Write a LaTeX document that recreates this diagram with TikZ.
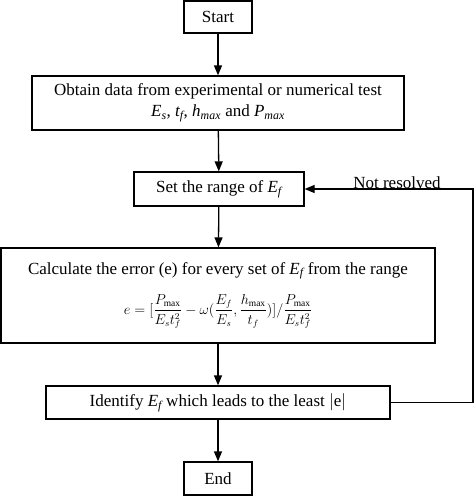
\documentclass[tikz,border=0pt]{standalone}
\usepackage{fontspec}
\setmainfont{Liberation Serif}
\usetikzlibrary{arrows.meta,positioning}
\tikzset{box/.style={draw,line width=1.3pt,align=center,inner sep=0pt,font=\fontsize{17}{21}\selectfont},
  flow/.style={line width=1.3pt,-{Triangle[length=10pt,width=8pt]}}}
\newcommand{\vsub}[2]{\textit{#1\textsubscript{#2}}}

\begin{document}
\begin{tikzpicture}[x=1pt,y=-1pt]
    \useasboundingbox (0,0) rectangle (474,496);
    \node[box,minimum width=68,minimum height=32] (start) at (218,17) {Start};
    \node[box,minimum width=372,minimum height=54] (data) at (218,103)
      {Obtain data from experimental or numerical test\\
       \vsub{E}{s}, \vsub{t}{f}, \vsub{h}{max} and \vsub{P}{max}};
    \node[box,minimum width=170,minimum height=34] (range) at (219,189) {Set the range of \vsub{E}{f}};
    \node[box,minimum width=434,minimum height=95] (calc) at (218,295.5)
      {Calculate the error (e) for every set of \vsub{E}{f} from the range\\[14pt]
       {\fontsize{13.5}{16}\selectfont$\displaystyle e=[\frac{P_{\max}}{E_s t_f^2}-\omega(\frac{E_f}{E_s},\frac{h_{\max}}{t_f})]/\frac{P_{\max}}{E_s t_f^2}$}};
    \node[box,minimum width=344,minimum height=33] (ident) at (218,402.5)
      {Identify \vsub{E}{f} which leads to the least $|$e$|$};
    \node[box,minimum width=68,minimum height=33] (end) at (218,478.5) {End};

    \draw[flow] (start) -- (data);
    \draw[flow] (data) -- (range);
    \draw[flow] (range) -- (calc);
    \draw[flow] (calc) -- (ident);
    \draw[flow] (ident) -- (end);

    % loop back when not resolved
    \coordinate (back) at (473,402.5);
    \draw[flow] (ident.east) -- (back) |- (range.east);
    \node[font=\fontsize{17}{21}\selectfont] (nr) at (397,183) {Not resolved};
\end{tikzpicture}
\end{document}
